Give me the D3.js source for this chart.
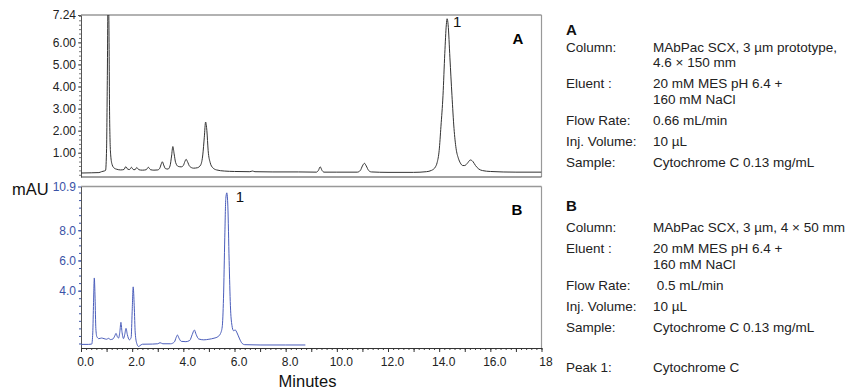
<!DOCTYPE html>
<html>
<head>
<meta charset="utf-8">
<script src="https://cdn.jsdelivr.net/npm/d3@7"></script>
<style>
  body { margin: 0; background: #fff; }
  svg { display: block; font-family: "Liberation Sans", Arial, sans-serif; }
</style>
</head>
<body>
<svg id="chart" width="851" height="389"></svg>
<script>
// chromatogram A, [minutes, mAU]
const traceA = [
  [0, 0.08], [0.4, 0.09], [0.7, 0.1], [0.8, 0.14], [0.9, 0.17], [0.96, 0.2], [1.0, 1.2],
  [1.03, 4.5], [1.06, 8.5], [1.09, 7.0], [1.12, 2.5], [1.16, 0.9], [1.22, 0.45], [1.3, 0.3],
  [1.4, 0.25], [1.55, 0.22], [1.68, 0.24], [1.75, 0.37], [1.83, 0.25], [1.9, 0.24], [1.97, 0.34],
  [2.04, 0.24], [2.11, 0.23], [2.18, 0.33], [2.26, 0.23], [2.4, 0.21], [2.55, 0.23], [2.63, 0.34],
  [2.72, 0.23], [2.85, 0.21], [3.0, 0.22], [3.08, 0.3], [3.14, 0.5], [3.18, 0.59], [3.23, 0.45],
  [3.3, 0.28], [3.4, 0.26], [3.48, 0.4], [3.54, 0.85], [3.59, 1.28], [3.64, 0.95], [3.7, 0.55],
  [3.8, 0.38], [3.92, 0.36], [4.0, 0.42], [4.06, 0.6], [4.11, 0.7], [4.16, 0.6], [4.25, 0.38],
  [4.4, 0.3], [4.55, 0.32], [4.68, 0.45], [4.76, 0.9], [4.82, 1.7], [4.87, 2.39], [4.92, 2.0],
  [4.97, 1.1], [5.05, 0.55], [5.15, 0.32], [5.3, 0.22], [5.6, 0.17], [6.0, 0.15], [6.6, 0.14],
  [6.7, 0.17], [6.8, 0.14], [7.5, 0.13], [8.5, 0.13], [9.2, 0.12], [9.28, 0.2], [9.35, 0.36],
  [9.42, 0.2], [9.5, 0.12], [10.0, 0.12], [10.8, 0.12], [10.92, 0.2], [11.0, 0.4], [11.08, 0.52],
  [11.15, 0.4], [11.24, 0.2], [11.35, 0.13], [12.0, 0.11], [13.0, 0.11], [13.5, 0.14], [13.7, 0.2],
  [13.85, 0.35], [13.92, 0.55], [14.0, 1.1], [14.07, 2.2], [14.15, 3.6], [14.22, 5.5], [14.28, 6.8],
  [14.31, 7.07], [14.35, 6.8], [14.42, 5.3], [14.5, 3.6], [14.58, 2.1], [14.66, 1.2], [14.75, 0.75],
  [14.83, 0.53], [14.92, 0.42], [15.0, 0.42], [15.1, 0.52], [15.22, 0.67], [15.32, 0.6], [15.42, 0.42],
  [15.55, 0.26], [15.7, 0.19], [16.0, 0.15], [17.0, 0.12], [18.0, 0.12]
];

// chromatogram B, [minutes, mAU]
const traceB = [
  [0, 0.44], [0.3, 0.44], [0.42, 0.46], [0.46, 1.2], [0.49, 3.2], [0.52, 4.84], [0.55, 3.5],
  [0.58, 1.5], [0.62, 0.95], [0.7, 0.82], [0.8, 0.86], [0.9, 0.82], [1.0, 0.78], [1.08, 0.84],
  [1.15, 0.76], [1.25, 0.8], [1.32, 1.0], [1.37, 1.17], [1.42, 0.95], [1.47, 0.86], [1.52, 1.3],
  [1.56, 1.9], [1.6, 1.3], [1.66, 0.82], [1.71, 1.1], [1.76, 1.5], [1.81, 1.1], [1.89, 0.74],
  [1.96, 0.9], [2.0, 2.6], [2.04, 4.25], [2.08, 3.0], [2.12, 1.2], [2.18, 0.5], [2.25, 0.3],
  [2.3, 0.35], [2.4, 0.45], [2.8, 0.46], [3.0, 0.48], [3.09, 0.55], [3.2, 0.48], [3.5, 0.48],
  [3.65, 0.6], [3.72, 0.9], [3.77, 1.06], [3.83, 0.85], [3.92, 0.64], [4.1, 0.62], [4.25, 0.7],
  [4.35, 1.1], [4.43, 1.39], [4.5, 1.1], [4.6, 0.8], [4.8, 0.74], [5.0, 0.78], [5.2, 0.85],
  [5.35, 0.95], [5.45, 1.15], [5.52, 1.6], [5.57, 3.5], [5.62, 7.5], [5.66, 10.1], [5.7, 10.48],
  [5.74, 9.6], [5.79, 6.0], [5.84, 3.0], [5.9, 1.7], [5.96, 1.35], [6.03, 1.39], [6.1, 1.2],
  [6.2, 0.8], [6.3, 0.5], [6.4, 0.42], [7.0, 0.4], [8.0, 0.4], [8.77, 0.4]
];

const yTicksA = [1, 2, 3, 4, 5, 6, 7.24];
const yTickLabelsA = ['1.00', '2.00', '3.00', '4.00', '5.00', '6.00', '7.24'];
const yTicksB = [4, 6, 8, 10.9];
const yTickLabelsB = ['4.0', '6.0', '8.0', '10.9'];
const xTicks = [0, 2, 4, 6, 8, 10, 12, 14, 16, 18];
const xTickLabels = ['0.0', '2.0', '4.0', '6.0', '8.0', '10.0', '12.0', '14.0', '16.0', '18'];

const peakA = { t: 14.31, v: 7.07, label: '1' };
const peakB = { t: 5.7, v: 10.48, label: '1' };

const conditionsA = [
  ['Column:', 'MAbPac SCX, 3 µm prototype,', '4.6 × 150 mm'],
  ['Eluent :', '20 mM MES pH 6.4 +', '160 mM NaCl'],
  ['Flow Rate:', '0.66 mL/min'],
  ['Inj. Volume:', '10 µL'],
  ['Sample:', 'Cytochrome C 0.13 mg/mL']
];
const conditionsB = [
  ['Column:', 'MAbPac SCX, 3 µm, 4 × 50 mm'],
  ['Eluent :', '20 mM MES pH 6.4 +', '160 mM NaCl'],
  ['Flow Rate:', ' 0.5 mL/min'],
  ['Inj. Volume:', '10 µL'],
  ['Sample:', 'Cytochrome C 0.13 mg/mL']
];
const peakNames = [['Peak 1:', 'Cytochrome C']];

const blue = '#4a5dbb';
const blueText = '#3a52a6';
const svg = d3.select('#chart');

const x = d3.scaleLinear().domain([0, 18]).range([81, 541.5]);
const yA = d3.scaleLinear().domain([-0.1, 7.24]).range([177, 15]);
const yB = d3.scaleLinear().domain([0.2, 10.9]).range([348, 186.5]);

// panel frames
function frame(y, top, bottom) {
  svg.append('line').attr('x1', x(0)).attr('x2', x(18)).attr('y1', top).attr('y2', top)
    .attr('stroke', '#999').attr('stroke-width', 1.5);
  svg.append('line').attr('x1', x(18)).attr('x2', x(18)).attr('y1', top).attr('y2', bottom)
    .attr('stroke', '#999').attr('stroke-width', 1.2);
}
frame(yA, yA(7.24), yA(-0.1));
frame(yB, yB(10.9), yB(0.2));

// clip for panel A
svg.append('defs').append('clipPath').attr('id', 'clipA')
  .append('rect').attr('x', x(0)).attr('y', yA(7.24)).attr('width', x(18) - x(0)).attr('height', yA(-0.1) - yA(7.24));

// y axes
function yAxis(scale, ticks, labels, minorStep, color) {
  const d = scale.domain();
  const minor = d3.range(Math.ceil(d[0] / minorStep) * minorStep, d[1], minorStep);
  const gMinor = svg.append('g').attr('transform', `translate(${x(0)},0)`)
    .call(d3.axisLeft(scale).tickValues(minor).tickSize(2).tickFormat(''));
  gMinor.select('.domain').remove();
  gMinor.selectAll('line').attr('stroke', color === '#222' ? '#777' : color);
  const g = svg.append('g').attr('transform', `translate(${x(0)},0)`)
    .call(d3.axisLeft(scale).tickValues(ticks).tickSize(3).tickPadding(2)
      .tickFormat((v, i) => labels[i]).tickSizeOuter(0));
  g.select('.domain').attr('stroke', '#555');
  g.selectAll('line').attr('stroke', color === '#222' ? '#555' : color);
  g.selectAll('text').attr('font-size', 12).attr('fill', color)
    .attr('font-family', '"Liberation Sans", Arial, sans-serif');
}
yAxis(yA, yTicksA, yTickLabelsA, 0.2, '#222');
yAxis(yB, yTicksB, yTickLabelsB, 0.5, blueText);

// bottom of panel A
svg.append('line').attr('x1', x(0)).attr('x2', x(18)).attr('y1', yA(-0.1)).attr('y2', yA(-0.1))
  .attr('stroke', '#444');

// x axis under panel B
const minorX = d3.range(0, 18.01, 0.2);
const gxMinor = svg.append('g').attr('transform', `translate(0,${yB(0.2)})`)
  .call(d3.axisBottom(x).tickValues(minorX).tickSize(2).tickFormat(''));
gxMinor.select('.domain').remove();
gxMinor.selectAll('line').attr('stroke', '#444');
const gx = svg.append('g').attr('transform', `translate(0,${yB(0.2)})`)
  .call(d3.axisBottom(x).tickValues(d3.range(0, 19, 1)).tickSize(4).tickSizeOuter(0)
    .tickFormat(v => { const i = xTicks.indexOf(v); return i < 0 ? '' : xTickLabels[i]; }));
gx.select('.domain').attr('stroke', '#333');
gx.selectAll('line').attr('stroke', '#333');
gx.selectAll('text').attr('font-size', 12).attr('fill', '#222').attr('dx', 4).attr('dy', '0.9em')
  .attr('font-family', '"Liberation Sans", Arial, sans-serif');

// traces
const lineA = d3.line().x(d => x(d[0])).y(d => yA(d[1])).curve(d3.curveMonotoneX);
const lineB = d3.line().x(d => x(d[0])).y(d => yB(d[1])).curve(d3.curveMonotoneX);
svg.append('path').datum(traceA).attr('d', lineA).attr('fill', 'none')
  .attr('stroke', '#333').attr('stroke-width', 1).attr('clip-path', 'url(#clipA)');
svg.append('path').datum(traceB).attr('d', lineB).attr('fill', 'none')
  .attr('stroke', blue).attr('stroke-width', 1);

// peak labels and panel letters
svg.append('text').attr('x', x(peakA.t) + 6).attr('y', yA(peakA.v) + 8)
  .attr('font-size', 15).attr('fill', '#111').text(peakA.label);
svg.append('text').attr('x', x(peakB.t) + 9).attr('y', yB(peakB.v) + 9)
  .attr('font-size', 15).attr('fill', '#111').text(peakB.label);
svg.append('text').attr('x', 518).attr('y', 44).attr('text-anchor', 'middle')
  .attr('font-size', 15).attr('font-weight', 'bold').text('A');
svg.append('text').attr('x', 517).attr('y', 215).attr('text-anchor', 'middle')
  .attr('font-size', 15).attr('font-weight', 'bold').text('B');

// axis titles
svg.append('text').attr('x', 12).attr('y', 195).attr('font-size', 16.5).attr('fill', '#111').text('mAU');
svg.append('text').attr('x', 307.5).attr('y', 387).attr('text-anchor', 'middle')
  .attr('font-size', 16.5).attr('fill', '#111').text('Minutes');

// run conditions
function conditions(title, rows, titleY, startY) {
  if (title) {
    svg.append('text').attr('x', 566).attr('y', titleY).attr('font-size', 15)
      .attr('font-weight', 'bold').attr('fill', '#111').text(title);
  }
  let y = startY;
  rows.forEach(r => {
    svg.append('text').attr('x', 566).attr('y', y).attr('font-size', 13.5).attr('fill', '#222').text(r[0]);
    r.slice(1).forEach((s, i) => {
      svg.append('text').attr('x', 653).attr('y', y + i * 15.5).attr('font-size', 13.5)
        .attr('fill', '#222').attr('xml:space', 'preserve').style('white-space', 'pre').text(s);
    });
    y += (r.length - 2) * 15.5 + 21;
  });
}
conditions('A', conditionsA, 35, 51.5);
conditions('B', conditionsB, 210.5, 232);
conditions(null, peakNames, 0, 371.5);
</script>
</body>
</html>
